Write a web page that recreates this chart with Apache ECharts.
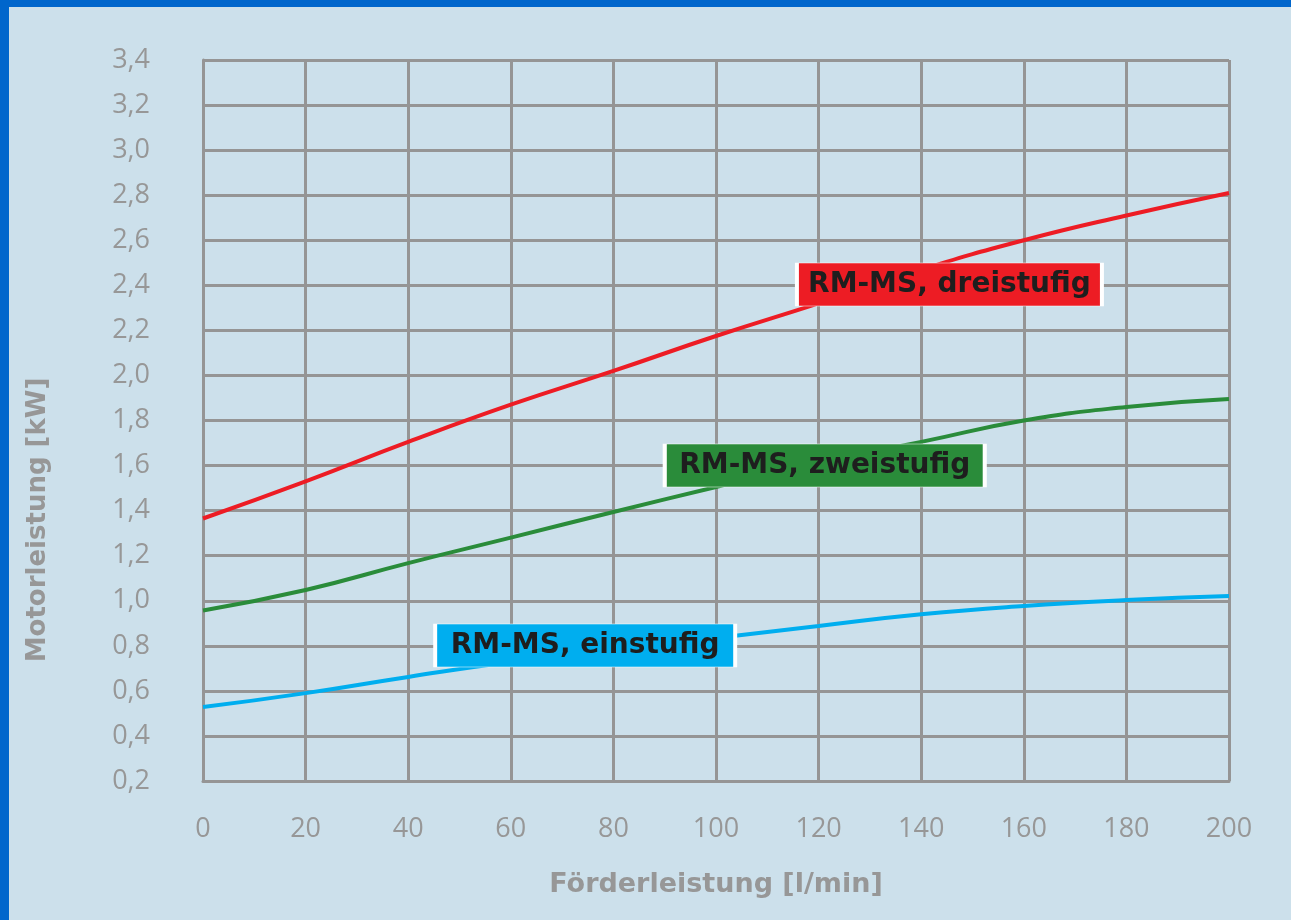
<!DOCTYPE html>
<html><head><meta charset="utf-8">
<script src="https://cdn.jsdelivr.net/npm/echarts@6/dist/echarts.min.js"></script>
<style>
html,body{margin:0;padding:0;background:#0066CC;width:1291px;height:920px;overflow:hidden}
#c{position:absolute;left:9px;top:7px;width:1282px;height:913px;background:#CCE0EB}
</style></head><body><div id="c"></div>
<script>
const xValues = [0,20,40,60,80,100,120,140,160,180,200];
const dreistufig = [1.365,1.53,1.705,1.87,2.02,2.175,2.32,2.47,2.60,2.71,2.81];
const zweistufig = [0.957,1.048,1.167,1.28,1.394,1.505,1.616,1.705,1.80,1.86,1.895];
const einstufig = [0.528,0.59,0.662,0.728,0.78,0.835,0.888,0.94,0.977,1.003,1.021];
const seriesNames = ['RM-MS, dreistufig','RM-MS, zweistufig','RM-MS, einstufig'];
const labelAnchors = [[145.5,2.404],[121.2,1.600],[74.5,0.801]];
const xTitle = 'Förderleistung [l/min]';
const yTitle = 'Motorleistung [kW]';
const colors = ['#ED1C24','#2A8C3A','#00AEEF'];
const gridColor = '#959595';
const textColor = '#979797';

const chart = echarts.init(document.getElementById('c'));
const datasets = [dreistufig, zweistufig, einstufig];
const boxW = [305, 320, 300];
const series = datasets.map((vals, i) => ({
  type: 'line',
  name: seriesNames[i],
  smooth: true,
  symbol: 'none',
  data: xValues.map((x, j) => [x, vals[j]]),
  lineStyle: {color: colors[i], width: 4},
  z: 3,
  markPoint: {
    z: 10,
    symbol: 'rect',
    symbolSize: [boxW[i], 43],
    itemStyle: {color: colors[i], borderColor: '#ffffff', borderWidth: 1.5},
    label: {show: true, position: 'inside', formatter: seriesNames[i], color: '#1e1e1e',
      fontFamily: 'DejaVu Sans', fontWeight: 'bold', fontSize: 28},
    data: [{coord: labelAnchors[i]}]
  }
}));
chart.setOption({
  animation: false,
  grid: {left: 194, right: 62, top: 53, bottom: 139, outerBoundsMode: 'none', containLabel: false},
  graphic: [{
    type: 'text',
    x: 29, y: 513,
    rotation: Math.PI / 2,
    style: {text: yTitle, fill: textColor, font: 'bold 26px "DejaVu Sans"',
      align: 'center', verticalAlign: 'middle'}
  }],
  xAxis: {
    type: 'value', min: 0, max: 200, interval: 20,
    name: xTitle, nameLocation: 'middle', nameGap: 90,
    nameTextStyle: {color: textColor, fontFamily: 'DejaVu Sans', fontWeight: 'bold', fontSize: 27},
    axisLine: {show: true, lineStyle: {color: gridColor, width: 3}},
    axisTick: {show: false},
    axisLabel: {color: textColor, fontFamily: 'Open Sans', fontSize: 27, margin: 35},
    splitLine: {show: true, lineStyle: {color: gridColor, width: 3}}
  },
  yAxis: {
    type: 'value', min: 0.2, max: 3.4, interval: 0.2,
    axisLine: {show: true, lineStyle: {color: gridColor, width: 3}},
    axisTick: {show: false},
    axisLabel: {color: textColor, fontFamily: 'Open Sans', fontSize: 27, margin: 53,
      formatter: v => v.toFixed(1).replace('.', ',')},
    splitLine: {show: true, lineStyle: {color: gridColor, width: 3}}
  },
  series: series
});
</script></body></html>
